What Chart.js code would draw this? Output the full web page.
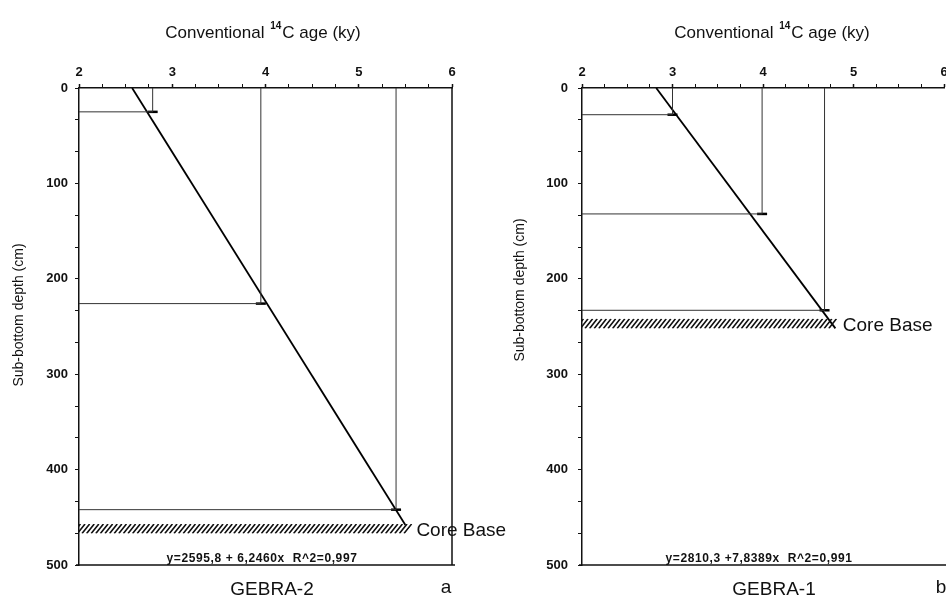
<!DOCTYPE html>
<html>
<head>
<meta charset="utf-8">
<script src="https://cdn.jsdelivr.net/npm/chart.js@4.4.0/dist/chart.umd.min.js"></script>
<style>
  html, body { margin: 0; padding: 0; background: #fff; width: 946px; height: 598px; overflow: hidden; }
  .wrap { position: absolute; top: 0; height: 598px; }
  #wrapA { left: 0; width: 520px; z-index: 1; }
  #wrapB { left: 480px; width: 520px; z-index: 2; }
</style>
</head>
<body>
<div class="wrap" id="wrapA"><canvas id="chartA" width="520" height="598"></canvas></div>
<div class="wrap" id="wrapB"><canvas id="chartB" width="520" height="598"></canvas></div>
<script>
// axis ticks (shared)
const ageTicks = [2, 3, 4, 5, 6];
const depthTicks = [0, 100, 200, 300, 400, 500];

// GEBRA-2 (panel a)
const agesA = [2.79, 3.95, 5.40];
const depthsA = [25, 226, 442];
const fitAgesA = [2.57, 5.50];
const fitDepthsA = [0, 458];
const coreBaseA = [457, 467];
const coreEndA = 5.50;

// GEBRA-1 (panel b)
const agesB = [3.00, 3.99, 4.68];
const depthsB = [28, 132, 233];
const fitAgesB = [2.82, 4.80];
const fitDepthsB = [0, 252];
const coreBaseB = [242, 252];
const coreEndB = 4.76;

const FONT = '"Liberation Sans", Arial, Helvetica, sans-serif';

// extra drawing: title, axis title, frame, core base hatching, labels
const decor = {
  id: 'decor',
  afterDraw(chart, args, o) {
    const { ctx, chartArea: ca } = chart;
    const x = chart.scales.x, y = chart.scales.y;
    ctx.save();
    ctx.fillStyle = '#111';
    ctx.strokeStyle = '#111';

    // bottom / right frame
    ctx.lineWidth = 1.5;
    ctx.beginPath();
    ctx.moveTo(ca.left - 3, ca.bottom);
    ctx.lineTo(o.frameRight ? ca.right + 3 : chart.width, ca.bottom);
    if (o.frameRight) {
      ctx.moveTo(ca.right, ca.top);
      ctx.lineTo(ca.right, ca.bottom);
    }
    ctx.stroke();

    // hatched core base band
    const hx0 = x.getPixelForValue(ageTicks[0]);
    const hx1 = x.getPixelForValue(o.coreEnd);
    const hy0 = y.getPixelForValue(o.core[0]);
    const hy1 = y.getPixelForValue(o.core[1]);
    ctx.save();
    ctx.beginPath();
    ctx.moveTo(hx0, hy0);
    ctx.lineTo(hx1 + (hy1 - hy0) * 0.8, hy0);
    ctx.lineTo(hx1, hy1);
    ctx.lineTo(hx0, hy1);
    ctx.closePath();
    ctx.clip();
    ctx.lineWidth = 1.6;
    ctx.beginPath();
    for (let px = hx0 - 20; px < hx1 + 20; px += 4.6) {
      ctx.moveTo(px, hy1);
      ctx.lineTo(px + (hy1 - hy0) * 0.8, hy0);
    }
    ctx.stroke();
    ctx.restore();

    // "Core Base"
    ctx.font = '19px ' + FONT;
    ctx.textAlign = 'left';
    ctx.textBaseline = 'middle';
    ctx.fillText('Core Base', hx1 + 11, (hy0 + hy1) / 2 + 2);

    // top title with superscript
    const t1 = 'Conventional ', t2 = '14', t3 = 'C age (ky)';
    ctx.font = '17px ' + FONT;
    const w1 = ctx.measureText(t1).width, w3 = ctx.measureText(t3).width;
    ctx.font = 'bold 10px ' + FONT;
    const w2 = ctx.measureText(t2).width + 2;
    let tx = o.titleX - (w1 + w2 + w3) / 2;
    ctx.textBaseline = 'alphabetic';
    ctx.font = '17px ' + FONT;
    ctx.fillText(t1, tx, 38);
    ctx.font = 'bold 10px ' + FONT;
    ctx.fillText(t2, tx + w1 + 1, 29);
    ctx.font = '17px ' + FONT;
    ctx.fillText(t3, tx + w1 + w2, 38);

    // y title
    ctx.save();
    ctx.translate(o.yTitleX, o.yTitleY);
    ctx.rotate(-Math.PI / 2);
    ctx.font = '14px ' + FONT;
    ctx.textAlign = 'center';
    ctx.textBaseline = 'middle';
    ctx.fillText('Sub-bottom depth (cm)', 0, 0);
    ctx.restore();

    // regression equation
    ctx.font = 'bold 12px ' + FONT;
    ctx.letterSpacing = '0.6px';
    ctx.textAlign = 'center';
    ctx.textBaseline = 'alphabetic';
    ctx.fillText(o.equation, o.eqX, ca.bottom - 3);
    ctx.letterSpacing = '0px';

    // core name and panel letter
    ctx.font = '19px ' + FONT;
    ctx.textBaseline = 'middle';
    ctx.fillText(o.name, o.nameX, 590);
    ctx.fillText(o.letter, o.letterX, 588);
    ctx.restore();
  }
};

function buildChart(id, c) {
  const guides = c.ages.map((a, i) => ({
    data: [{ x: ageTicks[0], y: c.depths[i] }, { x: a, y: c.depths[i] }, { x: a, y: depthTicks[0] }],
    showLine: true,
    borderColor: '#333',
    borderWidth: 1,
    pointRadius: 0
  }));
  const fit = {
    data: c.fitAges.map((a, i) => ({ x: a, y: c.fitDepths[i] })),
    showLine: true,
    borderColor: '#000',
    borderWidth: 1.8,
    pointRadius: 0
  };
  const points = {
    data: c.ages.map((a, i) => ({ x: a, y: c.depths[i] })),
    showLine: false,
    pointStyle: 'line',
    pointRadius: 5,
    pointBorderWidth: 2.5,
    pointBorderColor: '#000',
    pointBackgroundColor: '#000'
  };

  new Chart(document.getElementById(id), {
    type: 'scatter',
    data: { datasets: [...guides, fit, points] },
    options: {
      responsive: false,
      animation: false,
      devicePixelRatio: 1,
      layout: { padding: { left: 0, top: 0, right: c.padRight, bottom: 33 } },
      plugins: {
        legend: { display: false },
        tooltip: { enabled: false },
        decor: c.decor
      },
      scales: {
        x: {
          type: 'linear',
          position: 'top',
          min: ageTicks[0],
          max: ageTicks[ageTicks.length - 1],
          afterBuildTicks: s => {
            const t = [];
            for (let v = ageTicks[0]; v <= ageTicks[ageTicks.length - 1] + 1e-9; v += 0.25) t.push({ value: v });
            s.ticks = t;
          },
          afterFit: s => { s.height = 88; },
          ticks: {
            autoSkip: false,
            maxRotation: 0,
            padding: 4,
            color: '#111',
            font: { family: FONT, size: 13, weight: 'bold' },
            callback: v => ageTicks.find(t => Math.abs(t - v) < 1e-6) !== undefined ? String(Math.round(v)) : ''
          },
          grid: {
            drawOnChartArea: false,
            drawTicks: true,
            tickLength: 4,
            color: '#111',
            tickWidth: ctx => (Math.abs(ctx.tick.value - Math.round(ctx.tick.value)) < 1e-6 ? 1.5 : 1)
          },
          border: { display: true, color: '#111', width: 1.5 }
        },
        y: {
          type: 'linear',
          position: 'left',
          reverse: true,
          min: depthTicks[0],
          max: depthTicks[depthTicks.length - 1],
          afterBuildTicks: s => {
            const t = [];
            const step = (depthTicks[1] - depthTicks[0]) / 3;
            for (let k = 0; k <= (depthTicks.length - 1) * 3; k++) t.push({ value: depthTicks[0] + k * step });
            s.ticks = t;
          },
          afterFit: s => { s.width = c.yWidth; },
          ticks: {
            autoSkip: false,
            padding: c.yPad,
            color: '#111',
            font: { family: FONT, size: 13, weight: 'bold' },
            callback: v => depthTicks.find(t => Math.abs(t - v) < 1e-6) !== undefined ? String(Math.round(v)) : ''
          },
          grid: {
            drawOnChartArea: false,
            drawTicks: true,
            tickLength: 4,
            color: '#111'
          },
          border: { display: true, color: '#111', width: 1.5 }
        }
      }
    },
    plugins: [decor]
  });
}

document.addEventListener('DOMContentLoaded', function () {
  buildChart('chartA', {
    ages: agesA, depths: depthsA, fitAges: fitAgesA, fitDepths: fitDepthsA,
    yWidth: 79, yPad: 7, padRight: 68,
    decor: {
      core: coreBaseA, coreEnd: coreEndA, frameRight: true,
      titleX: 263, yTitleX: 19, yTitleY: 315,
      equation: 'y=2595,8 + 6,2460x  R^2=0,997', eqX: 262,
      name: 'GEBRA-2', nameX: 272, letter: 'a', letterX: 446
    }
  });
  buildChart('chartB', {
    ages: agesB, depths: depthsB, fitAges: fitAgesB, fitDepths: fitDepthsB,
    yWidth: 102, yPad: 10, padRight: 56,
    decor: {
      core: coreBaseB, coreEnd: coreEndB, frameRight: false,
      titleX: 292, yTitleX: 40, yTitleY: 290,
      equation: 'y=2810,3 +7,8389x  R^2=0,991', eqX: 279,
      name: 'GEBRA-1', nameX: 294, letter: 'b', letterX: 461
    }
  });
});
</script>
</body>
</html>
